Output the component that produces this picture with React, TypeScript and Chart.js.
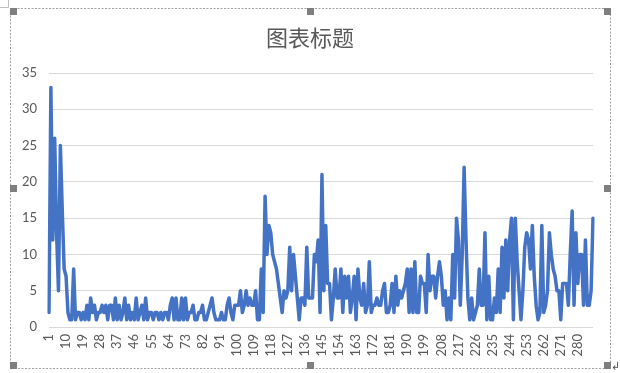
import React, { useEffect, useRef } from 'react';
import { Chart, registerables } from 'chart.js';

Chart.register(...registerables);

// Series values, in order (points 1..288)
const valuesA = [2, 33, 12, 26, 13, 5, 25, 16, 8, 7, 2, 1, 1, 8, 1];
const valuesB = [2, 2, 1, 2, 1, 3, 1, 4, 2, 3, 1, 2, 2, 3, 2, 3, 1, 3, 3, 1, 4, 1, 3, 1, 2, 4, 1, 3, 1, 2, 1, 4, 1, 2, 3, 1, 4];
const valuesC = [1, 2, 2, 1, 2, 2, 1, 2, 1, 2, 2, 1, 3, 4, 1, 4, 1, 1, 4, 1, 4, 1, 2, 2, 3, 1, 1, 2, 2, 3, 1, 1, 2, 3, 4, 2, 1, 1, 1, 2, 1, 1, 3, 4];
const valuesD = [2, 1, 3, 3, 3, 5, 2, 3, 5, 3, 4, 3, 3, 5, 1, 1, 8, 2];
const valuesE = [18, 10, 14, 13, 10, 9, 8, 6, 4, 2, 5, 4, 5, 11, 5, 10, 7, 4, 1, 4, 4, 3, 11, 4, 4, 4, 10, 9, 12, 2, 21];
const valuesF = [5, 14, 6, 6, 1, 4, 8, 4, 4, 8, 2, 7, 4, 7, 2, 4, 7, 1, 8, 4, 3, 6, 2, 3, 9, 2, 3, 3, 4, 3, 3, 5, 6, 2, 2, 3, 6, 2, 7, 3];
const valuesG = [5, 4, 5, 6, 8, 2, 8, 2, 9, 2, 2, 7, 6, 6, 2, 10, 5, 7, 7, 4, 7, 9, 7, 3, 5, 1, 4, 1, 10, 4, 15, 12, 3, 10, 22];
const valuesH = [12, 4, 1, 4, 1, 2, 3, 8, 3, 3, 13, 1, 7, 1, 1, 4, 2, 8, 2, 11, 4, 12, 5, 12, 15, 1, 15, 9, 5, 1, 5, 11, 13, 12, 8, 14, 7, 3];
const valuesI = [1, 2, 14, 2, 3, 5, 13, 10, 8, 7, 5, 5, 1, 6, 6, 6, 3, 10, 16, 3, 13, 6, 10, 10, 3, 12, 3, 3, 5, 15];

const seriesValues = [
  ...valuesA, ...valuesB, ...valuesC, ...valuesD, ...valuesE,
  ...valuesF, ...valuesG, ...valuesH, ...valuesI,
];

// Categories 1..N
const categories = seriesValues.map((_, i) => String(i + 1));
const labelStep = 9;

const titleText = '图表标题';
const yMin = 0;
const yMax = 35;
const yStep = 5;

const frameDecor = {
  id: 'frameDecor',
  afterDraw(chart: any) {
    const ctx = chart.ctx;
    ctx.save();
    // dashed selection frame
    ctx.strokeStyle = '#a0a0a0';
    ctx.lineWidth = 1;
    ctx.setLineDash([2, 1.5]);
    ctx.strokeRect(10.5, 8.5, 600, 360);
    ctx.setLineDash([]);
    // corner marker top-left
    ctx.strokeStyle = '#c0c0c0';
    ctx.beginPath();
    ctx.moveTo(8.5, 0);
    ctx.lineTo(8.5, 7.5);
    ctx.lineTo(0, 7.5);
    ctx.stroke();
    // handles
    ctx.fillStyle = '#7f7f7f';
    const hs = 7;
    const xs = [10, 307, 604];
    const ys = [8, 185, 362];
    for (const x of xs) {
      for (const y of ys) {
        if (x === 307 && y === 185) continue;
        ctx.fillRect(x, y, hs, hs);
      }
    }
    ctx.fillStyle = '#555555';
    ctx.font = '11px "DejaVu Sans"';
    ctx.textBaseline = 'middle';
    ctx.fillText('\u21B2', 611, 367);
    ctx.restore();
  },
};

export default function App() {
  const ref = useRef<HTMLCanvasElement>(null);

  useEffect(() => {
    if (!ref.current) return;
    const tickFont = { family: 'Lato, "Liberation Sans", sans-serif', size: 13 };
    const chart = new Chart(ref.current, {
      type: 'line',
      data: {
        labels: categories,
        datasets: [
          {
            data: seriesValues,
            borderColor: '#4472C4',
            backgroundColor: '#4472C4',
            borderWidth: 3.5,
            pointRadius: 0,
            pointHoverRadius: 0,
            tension: 0,
            borderJoinStyle: 'round',
            borderCapStyle: 'round',
            fill: false,
          },
        ],
      },
      options: {
        animation: false,
        responsive: false,
        devicePixelRatio: 1,
        layout: { padding: { left: 10, right: 10, top: 24, bottom: 0 } },
        plugins: {
          legend: { display: false },
          tooltip: { enabled: false },
          title: {
            display: true,
            text: titleText,
            color: '#595959',
            font: { family: '"Noto Sans CJK SC", sans-serif', size: 22, weight: 'normal', lineHeight: 1.2 },
            padding: { top: 0, bottom: 22.6 },
          },
        },
        scales: {
          x: {
            grid: { display: false, drawTicks: false },
            border: { display: false },
            ticks: {
              autoSkip: false,
              minRotation: 90,
              maxRotation: 90,
              color: '#595959',
              font: tickFont,
              padding: 7,
              callback: (_v: any, i: number) => (i % labelStep === 0 ? categories[i] : ''),
            },
            afterFit: (s: any) => {
              s.height = 46;
            },
          },
          y: {
            min: yMin,
            max: yMax,
            ticks: { stepSize: yStep, color: '#595959', font: tickFont, padding: 12 },
            grid: { color: '#d9d9d9', lineWidth: 1, drawTicks: false },
            border: { display: false },
            afterFit: (s: any) => {
              s.width = 39;
            },
          },
          ySpacer: {
            type: 'linear',
            position: 'right',
            display: true,
            min: yMin,
            max: yMax,
            grid: { display: false, drawTicks: false },
            border: { display: false },
            ticks: { display: false },
            afterFit: (s: any) => {
              s.width = 17;
            },
          },
        },
      },
      plugins: [frameDecor],
    });
    return () => chart.destroy();
  }, []);

  return (
    <div style={{ position: 'fixed', left: 0, top: 0, width: 620, height: 373, background: '#ffffff' }}>
      <canvas ref={ref} width={620} height={373} style={{ display: 'block' }} />
    </div>
  );
}
